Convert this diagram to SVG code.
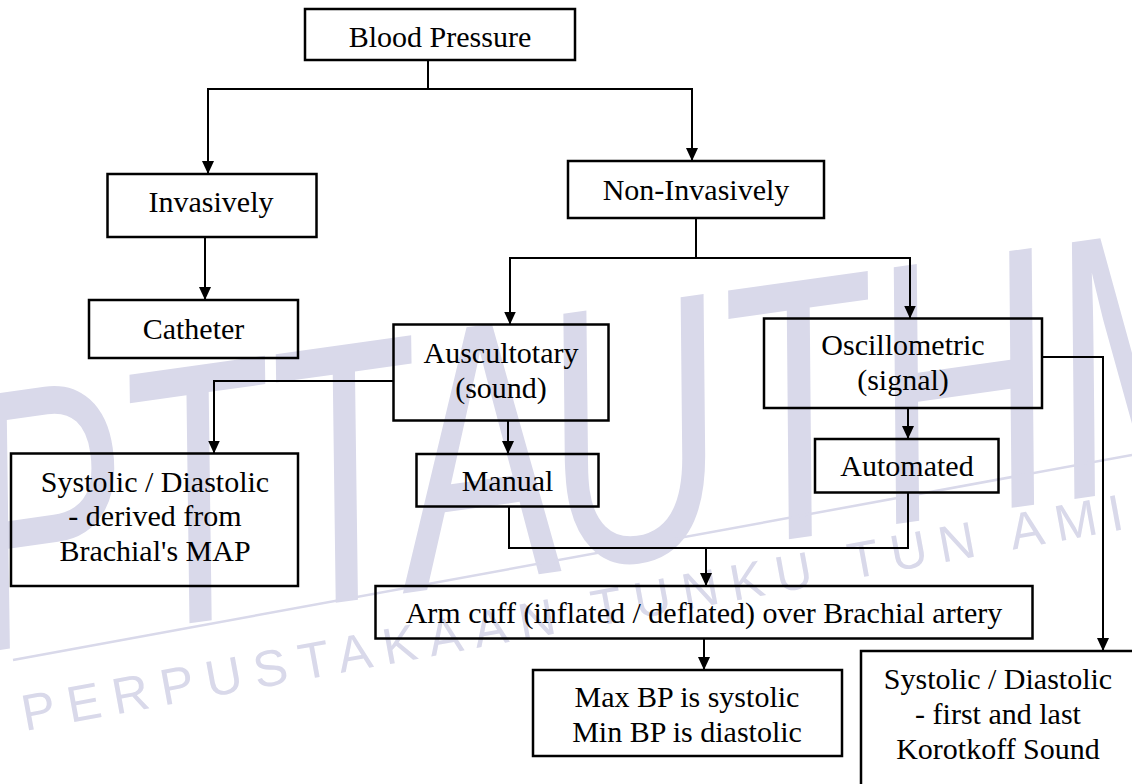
<svg xmlns="http://www.w3.org/2000/svg" width="1132" height="784" viewBox="0 0 1132 784">
<style>
.box{fill:none;stroke:#000;stroke-width:2.5}
.t{font-family:"Liberation Serif","Times New Roman",serif;font-size:30px;fill:#000;text-anchor:middle}
.c{fill:none;stroke:#000;stroke-width:2}
.wm{fill:#d9d9ea;font-family:"Liberation Sans",Arial,sans-serif}
</style>
<defs>
<marker id="ah" viewBox="0 0 13 12" refX="13" refY="6" markerWidth="13" markerHeight="12" markerUnits="userSpaceOnUse" orient="auto">
<path d="M0,0 L13,6 L0,12 z" fill="#000"/>
</marker>
</defs>
<rect width="1132" height="784" fill="#fff"/>
<g id="watermark">
<g transform="translate(0,650) rotate(-8)">
<text class="wm" x="-20" y="0" font-style="italic" font-size="370" textLength="600" lengthAdjust="spacingAndGlyphs">PTTA</text>
<text class="wm" x="565" y="0" font-style="italic" font-size="370" textLength="720" lengthAdjust="spacingAndGlyphs">UTHM</text>
</g>
<line x1="13" y1="660" x2="1132" y2="455" stroke="#d9d9ea" stroke-width="2.5"/>
<g transform="translate(25,731) rotate(-10.4)">
<text class="wm" x="0" y="0" font-size="51" letter-spacing="12">PERPUSTAKAAN TUNKU TUN AMINAH</text>
</g>
</g>
<g id="connectors">
<path class="c" d="M428,60 V89"/>
<path class="c" d="M428,89 H208 V174" marker-end="url(#ah)"/>
<path class="c" d="M428,89 H692 V161" marker-end="url(#ah)"/>
<path class="c" d="M205,237 V300" marker-end="url(#ah)"/>
<path class="c" d="M696,218 V258"/>
<path class="c" d="M696,258 H510 V324.5" marker-end="url(#ah)"/>
<path class="c" d="M696,258 H910 V318.5" marker-end="url(#ah)"/>
<path class="c" d="M393.5,381 H214 V453.5" marker-end="url(#ah)"/>
<path class="c" d="M508,420.5 V454" marker-end="url(#ah)"/>
<path class="c" d="M908,408 V439" marker-end="url(#ah)"/>
<path class="c" d="M1042,357 H1103 V651" marker-end="url(#ah)"/>
<path class="c" d="M509,506.5 V548 H908 V492.5"/>
<path class="c" d="M706,548 V586" marker-end="url(#ah)"/>
<path class="c" d="M704,638.5 V670" marker-end="url(#ah)"/>
</g>
<g id="n-bp"><rect class="box" x="305" y="9" width="270" height="51"/><text class="t" x="440" y="47">Blood Pressure</text></g>
<g id="n-inv"><rect class="box" x="107.5" y="174" width="209" height="63"/><text class="t" x="211" y="212">Invasively</text></g>
<g id="n-noninv"><rect class="box" x="568" y="161" width="256" height="57"/><text class="t" x="696" y="200">Non-Invasively</text></g>
<g id="n-cath"><rect class="box" x="89" y="300" width="209" height="58"/><text class="t" x="193.5" y="339">Catheter</text></g>
<g id="n-ausc"><rect class="box" x="393.5" y="324.5" width="215" height="96"/><text class="t" x="501" y="362.5">Auscultotary</text><text class="t" x="501" y="397.5">(sound)</text></g>
<g id="n-osc"><rect class="box" x="764" y="318.5" width="278" height="89.5"/><text class="t" x="903" y="355">Oscillometric</text><text class="t" x="903" y="390">(signal)</text></g>
<g id="n-sysl"><rect class="box" x="11" y="453.5" width="287" height="132.5"/><text class="t" x="155" y="491.5">Systolic / Diastolic</text><text class="t" x="155" y="526">- derived from</text><text class="t" x="155" y="561">Brachial's MAP</text></g>
<g id="n-manual"><rect class="box" x="416.5" y="454" width="182" height="52.5"/><text class="t" x="507.5" y="491">Manual</text></g>
<g id="n-auto"><rect class="box" x="815" y="439" width="183.5" height="53.5"/><text class="t" x="907" y="476">Automated</text></g>
<g id="n-arm"><rect class="box" x="375.5" y="586" width="657" height="52.5"/><text class="t" x="704" y="622.5">Arm cuff (inflated / deflated) over Brachial artery</text></g>
<g id="n-max"><rect class="box" x="533" y="670" width="309" height="86"/><text class="t" x="687" y="706.5">Max BP is systolic</text><text class="t" x="687" y="741.5">Min BP is diastolic</text></g>
<g id="n-koro"><rect class="box" x="861" y="651" width="300" height="200"/><text class="t" x="998" y="688.5">Systolic / Diastolic</text><text class="t" x="998" y="723.5">- first and last</text><text class="t" x="998" y="758.5">Korotkoff Sound</text></g>
</svg>
